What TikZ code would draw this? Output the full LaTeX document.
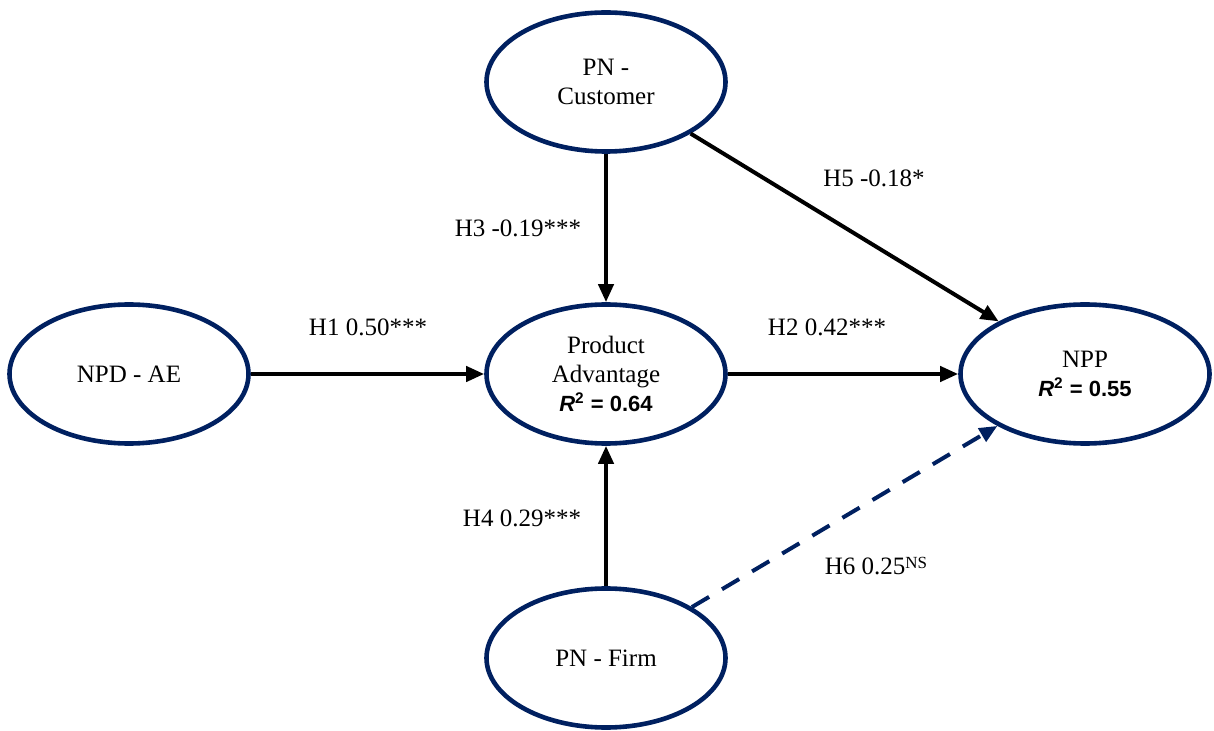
\documentclass[tikz,border=0pt]{standalone}
\usepackage{fontspec}
\setmainfont{Liberation Serif}
\newfontfamily\arialfont{Liberation Sans}
\usetikzlibrary{arrows.meta,shapes.geometric}
\definecolor{navy}{HTML}{002060}
\tikzset{
  base/.style={font=\fontsize{12.5}{14.5}\selectfont, text=black},
  construct/.style={base, ellipse, draw=navy, line width=2.3pt, fill=white, minimum width=119.5pt, minimum height=69.5pt, inner sep=0pt, align=center},
  coef/.style={base, inner sep=0pt},
  effect/.style={-{Triangle[length=9pt,width=7.5pt]}, line width=2pt, draw=black},
  nseffect/.style={effect, draw=navy, dash pattern=on 10pt off 7.5pt},
}
\newcommand{\rsq}[1]{{\arialfont\bfseries\fontsize{11}{13}\selectfont\textit{R}\textsuperscript{2} = #1}}

\begin{document}
\begin{tikzpicture}[x=0.5pt,y=-0.5pt]
  \useasboundingbox (0,0) rectangle (1214,731);

  \node[construct] (cust) at (606,82) {PN -\\Customer};
  \node[construct] (ae) at (129,374) {NPD - AE};
  \node[construct] (pa) at (606,374) {Product\\Advantage\\\rsq{0.64}};
  \node[construct,minimum width=124.5pt] (npp) at (1085,374) {NPP\\\rsq{0.55}};
  \node[construct] (firm) at (606,658) {PN - Firm};

  \draw[effect] (ae) -- (pa);
  \draw[effect] (pa) -- (npp);
  \draw[effect] (cust) -- (pa);
  \draw[effect] (firm) -- (pa);
  \draw[effect] (cust) -- (npp);
  \draw[nseffect] (firm) -- (npp);

  \node[coef] (h1) at (368,327) {H1 0.50***};
  \node[coef] (h2) at (827,327) {H2 0.42***};
  \node[coef] (h3) at (518,228) {H3 -0.19***};
  \node[coef] (h4) at (522,518) {H4 0.29***};
  \node[coef] (h5) at (874,178) {H5 -0.18*};
  \node[coef] (h6) at (876,566) {H6 0.25{\fontsize{8.5}{10}\selectfont\raisebox{0.35em}{NS}}};
\end{tikzpicture}
\end{document}
